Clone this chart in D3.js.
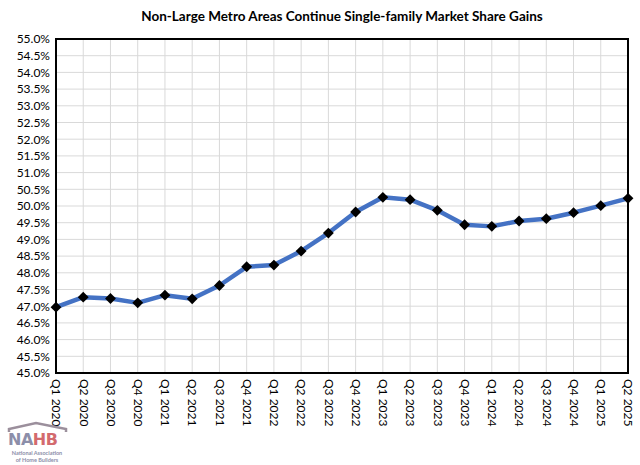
<!DOCTYPE html>
<html>
<head>
<meta charset="utf-8">
<script src="https://cdn.jsdelivr.net/npm/d3@7"></script>
<style>
  body { margin: 0; background: #fff; }
  svg { display: block; font-family: Lato, "Open Sans", sans-serif; }
</style>
</head>
<body>
<svg id="chart"></svg>
<script>
const width = 640;
const height = 465;

const quarters = [
  "Q1 2020", "Q2 2020", "Q3 2020", "Q4 2020",
  "Q1 2021", "Q2 2021", "Q3 2021", "Q4 2021",
  "Q1 2022", "Q2 2022", "Q3 2022", "Q4 2022",
  "Q1 2023", "Q2 2023", "Q3 2023", "Q4 2023",
  "Q1 2024", "Q2 2024", "Q3 2024", "Q4 2024",
  "Q1 2025", "Q2 2025"
];
const share = [
  46.97, 47.27, 47.23, 47.10,
  47.33, 47.22, 47.62, 48.18,
  48.23, 48.65, 49.19, 49.82,
  50.26, 50.19, 49.87, 49.44,
  49.39, 49.55, 49.62, 49.80,
  50.01, 50.23
];
const yTicks = d3.range(45, 55.01, 0.5);

const margin = { top: 39, right: 12, bottom: 92, left: 56 };
const svg = d3.select("#chart").attr("width", width).attr("height", height);

const x = d3.scalePoint()
  .domain(quarters)
  .range([margin.left, width - margin.right]);

const y = d3.scaleLinear()
  .domain([45, 55])
  .range([height - margin.bottom, margin.top]);

// gridlines
svg.append("g")
  .selectAll("line.h")
  .data(yTicks)
  .join("line")
  .attr("x1", margin.left).attr("x2", width - margin.right)
  .attr("y1", d => y(d)).attr("y2", d => y(d))
  .attr("stroke", "#d9d9d9").attr("stroke-width", 1);

svg.append("g")
  .selectAll("line.v")
  .data(quarters)
  .join("line")
  .attr("x1", d => x(d)).attr("x2", d => x(d))
  .attr("y1", margin.top).attr("y2", height - margin.bottom)
  .attr("stroke", "#d9d9d9").attr("stroke-width", 1);

// y axis labels
const yAxis = d3.axisLeft(y)
  .tickValues(yTicks)
  .tickFormat(d => d.toFixed(1) + "%")
  .tickSize(0)
  .tickPadding(6);

svg.append("g")
  .attr("transform", `translate(${margin.left},0)`)
  .call(yAxis)
  .call(g => g.select(".domain").remove())
  .selectAll("text")
  .attr("font-size", "12px")
  .attr("font-family", "Lato, 'Open Sans', sans-serif")
  .attr("fill", "#000");

// x axis labels (rotated)
const xAxis = d3.axisBottom(x).tickSize(0);
svg.append("g")
  .attr("transform", `translate(0,${height - margin.bottom})`)
  .call(xAxis)
  .call(g => g.select(".domain").remove())
  .selectAll("text")
  .attr("font-size", "12px")
  .attr("font-family", "Lato, 'Open Sans', sans-serif")
  .attr("fill", "#000")
  .attr("transform", "rotate(90)")
  .attr("text-anchor", "start")
  .attr("dy", "0.35em")
  .attr("x", 6)
  .attr("y", 0);

// plot border
svg.append("rect")
  .attr("x", margin.left).attr("y", margin.top)
  .attr("width", width - margin.left - margin.right)
  .attr("height", height - margin.top - margin.bottom)
  .attr("fill", "none")
  .attr("stroke", "#000")
  .attr("stroke-width", 2);

// line
const line = d3.line()
  .x((d, i) => x(quarters[i]))
  .y(d => y(d));

svg.append("path")
  .datum(share)
  .attr("d", line)
  .attr("fill", "none")
  .attr("stroke", "#4472c4")
  .attr("stroke-width", 4.5)
  .attr("stroke-linejoin", "round");

// diamond markers
const diamond = d3.symbol().type(d3.symbolDiamond2).size(75);
svg.append("g")
  .selectAll("path")
  .data(share)
  .join("path")
  .attr("d", diamond)
  .attr("transform", (d, i) => `translate(${x(quarters[i])},${y(d)})`)
  .attr("fill", "#000");

// title
svg.append("text")
  .attr("x", 342)
  .attr("y", 21)
  .attr("text-anchor", "middle")
  .attr("font-size", "13.5px")
  .attr("font-weight", "bold")
  .attr("fill", "#000")
  .text("Non-Large Metro Areas Continue Single-family Market Share Gains");

// NAHB logo
const logo = svg.append("g");
logo.append("path")
  .attr("d", "M9,432 L9,429 L36,423 L66,429 L66,432")
  .attr("fill", "none")
  .attr("stroke", "#9b8f9c")
  .attr("stroke-width", 2.5);
logo.append("text")
  .attr("x", 8).attr("y", 445)
  .attr("font-size", "16px")
  .attr("font-weight", "900")
  .attr("font-family", "'DejaVu Sans', sans-serif")
  .attr("letter-spacing", "-0.5")
  .selectAll("tspan")
  .data([["NA", "#8c8ea9"], ["HB", "#d36a6e"]])
  .join("tspan")
  .attr("fill", d => d[1])
  .text(d => d[0]);
logo.append("text")
  .attr("x", 37).attr("y", 455)
  .attr("text-anchor", "middle")
  .attr("font-size", "5.5px")
  .attr("font-weight", "bold")
  .attr("fill", "#8c8ea9")
  .text("National Association");
logo.append("text")
  .attr("x", 37).attr("y", 462)
  .attr("text-anchor", "middle")
  .attr("font-size", "5.5px")
  .attr("font-weight", "bold")
  .attr("fill", "#8c8ea9")
  .text("of Home Builders");
</script>
</body>
</html>
